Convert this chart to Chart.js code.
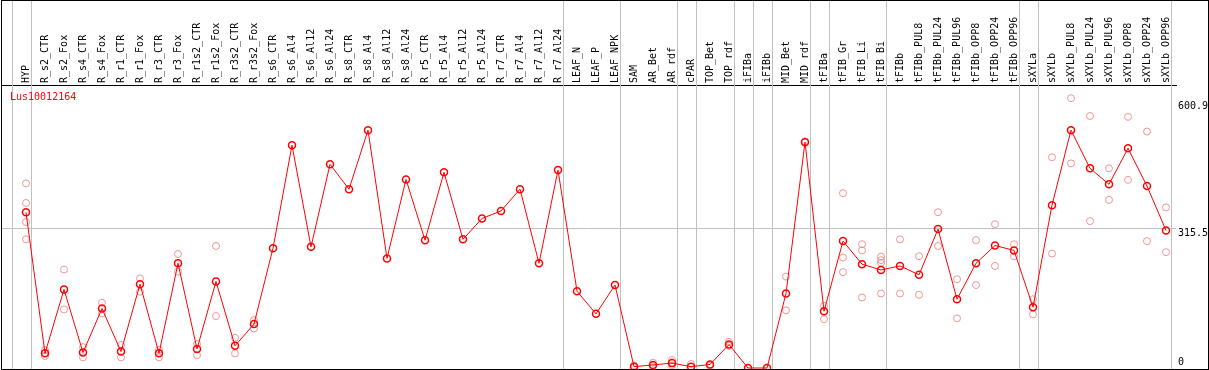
<!DOCTYPE html>
<html>
<head>
<meta charset="utf-8">
<script src="https://cdn.jsdelivr.net/npm/chart.js@4.4.1/dist/chart.umd.min.js"></script>
<style>
  html, body { margin: 0; padding: 0; background: #fff; }
  canvas { display: block; }
</style>
</head>
<body>
<canvas id="expr-line" width="1209" height="370"></canvas>
<script>
var geneName = "Lus10012164";

var categories = ["HYP", "R_s2_CTR", "R_s2_Fox", "R_s4_CTR", "R_s4_Fox", "R_r1_CTR", "R_r1_Fox",
  "R_r3_CTR", "R_r3_Fox", "R_r1s2_CTR", "R_r1s2_Fox", "R_r3s2_CTR", "R_r3s2_Fox",
  "R_s6_CTR", "R_s6_Al4", "R_s6_Al12", "R_s6_Al24", "R_s8_CTR", "R_s8_Al4", "R_s8_Al12", "R_s8_Al24",
  "R_r5_CTR", "R_r5_Al4", "R_r5_Al12", "R_r5_Al24", "R_r7_CTR", "R_r7_Al4", "R_r7_Al12", "R_r7_Al24",
  "LEAF_N", "LEAF_P", "LEAF_NPK", "SAM", "AR_Bet", "AR_rdf", "cPAR", "TOP_Bet", "TOP_rdf",
  "iFIBa", "iFIBb", "MID_Bet", "MID_rdf", "tFIBa", "tFIB_Gr", "tFIB_Li", "tFIB_Bi", "tFIBb",
  "tFIBb_PUL8", "tFIBb_PUL24", "tFIBb_PUL96", "tFIBb_OPP8", "tFIBb_OPP24", "tFIBb_OPP96",
  "sXYLa", "sXYLb", "sXYLb_PUL8", "sXYLb_PUL24", "sXYLb_PUL96", "sXYLb_OPP8", "sXYLb_OPP24", "sXYLb_OPP96"];

// mean expression per sample
var means = [351, 33, 177, 35, 134, 37, 189, 33, 236, 43, 195, 50, 99,
  270, 502, 273, 459, 403, 536, 247, 425,
  288, 441, 290, 337, 354, 403, 236, 446,
  173, 122, 187, 3, 7, 11, 3, 8, 53,
  0, 0, 168, 509, 128, 286, 234, 221, 230,
  210, 313, 155, 236, 276, 265,
  137, 367, 536, 450, 414, 495, 410, 310];

// individual replicates (light circles)
var replicates = [[416, 372, 329, 290], [40, 27], [222, 132], [47, 24], [147, 123], [52, 24], [202, 172],
  [41, 24], [257, 217], [54, 29], [275, 117], [68, 33], [108, 89],
  [], [], [], [], [], [], [], [],
  [], [], [], [], [], [], [], [],
  [], [], [], [6, 2], [12, 4], [18, 6], [9], [5], [59, 50],
  [], [], [206, 130], [511], [140, 110], [394, 249, 216], [279, 265, 159], [251, 243, 237, 168], [290, 168],
  [252, 165], [351, 275], [200, 112], [288, 187], [324, 230], [279, 252],
  [155, 121], [475, 258], [608, 461], [568, 331], [450, 379], [566, 424], [533, 286], [362, 261]];

var yTicks = [0, 315.5, 600.9];
var gridValue = 315.5;
// separators are drawn just after these sample indices
var groupEnds = [-1, 0, 28, 31, 34, 35, 37, 38, 39, 41, 42, 45, 52, 53, 60];

var meanPoints = means.map(function (v, i) { return { x: i, y: v }; });
var repPoints = [];
replicates.forEach(function (list, i) {
  list.forEach(function (v) { repPoints.push({ x: i, y: v }); });
});

var monoFont = "'DejaVu Sans Mono', monospace";

var framePlugin = {
  id: 'frame',
  beforeDatasetsDraw: function (chart) {
    var c = chart.ctx, xs = chart.scales.x, area = chart.chartArea;
    c.save();
    c.strokeStyle = '#c0c0c0';
    c.lineWidth = 1;
    groupEnds.forEach(function (g) {
      var px = Math.round(xs.getPixelForValue(g + 0.25)) + 0.5;
      c.beginPath();
      c.moveTo(px, 0);
      c.lineTo(px, area.bottom);
      c.stroke();
    });
    c.restore();
  },
  afterDraw: function (chart) {
    var c = chart.ctx, ys = chart.scales.y, area = chart.chartArea;
    c.save();
    c.font = "10px " + monoFont;
    c.fillStyle = '#000';
    c.textAlign = 'left';
    c.textBaseline = 'middle';
    yTicks.forEach(function (v) {
      var py = Math.min(ys.getPixelForValue(v) + 5, area.bottom - 7);
      c.fillText(String(v), area.right + 2, py);
    });
    c.fillStyle = '#ff0000';
    c.fillText(geneName, 10, area.top + 12);
    c.strokeStyle = '#000';
    c.lineWidth = 1;
    c.strokeRect(1.5, 0.5, chart.width - 2, area.bottom);
    c.restore();
  }
};

new Chart(document.getElementById("expr-line").getContext("2d"), {
  type: "scatter",
  data: {
    datasets: [{
        label: geneName,
        data: meanPoints,
        showLine: true,
        borderColor: "#ff0000",
        borderWidth: 1,
        pointRadius: 3.5,
        pointBorderWidth: 1.5,
        pointBorderColor: "#ff0000",
        pointBackgroundColor: "rgba(0,0,0,0)",
        order: 1
      },
      {
        label: "replicates",
        data: repPoints,
        showLine: false,
        pointRadius: 3.5,
        pointBorderWidth: 1,
        pointBorderColor: "rgba(235,140,140,0.9)",
        pointBackgroundColor: "rgba(0,0,0,0)",
        order: 2
      }
    ]
  },
  options: {
    responsive: false,
    devicePixelRatio: 1,
    animation: false,
    layout: { autoPadding: false, padding: { left: 1, right: 0, top: 0, bottom: 1 } },
    plugins: {
      legend: { display: false },
      tooltip: { enabled: false }
    },
    scales: {
      x: {
        type: 'linear',
        position: 'top',
        min: -1.316,
        max: 60.526,
        afterFit: function (scale) {
          scale.height = 85;
          scale.paddingLeft = 0;
          scale.paddingRight = 0;
        },
        afterBuildTicks: function (scale) {
          scale.ticks = categories.map(function (c, i) { return { value: i }; });
        },
        grid: { display: false, drawTicks: false },
        border: { display: true, color: '#000', width: 1 },
        ticks: {
          autoSkip: false,
          minRotation: 90,
          maxRotation: 90,
          padding: 2,
          labelOffset: 12,
          color: '#000',
          font: { size: 10, family: monoFont },
          callback: function (value) { return categories[value]; }
        }
      },
      y: {
        position: 'right',
        min: -2.25,
        max: 637.8,
        afterFit: function (scale) {
          scale.width = 33;
          scale.paddingTop = 0;
          scale.paddingBottom = 0;
        },
        afterBuildTicks: function (scale) {
          scale.ticks = yTicks.map(function (v) { return { value: v }; });
        },
        grid: {
          drawTicks: false,
          color: function (ctx) {
            return ctx.tick && ctx.tick.value === gridValue ? '#c0c0c0' : 'rgba(0,0,0,0)';
          }
        },
        border: { display: false },
        ticks: { display: false }
      }
    }
  },
  plugins: [framePlugin]
});
</script>
</body>
</html>
